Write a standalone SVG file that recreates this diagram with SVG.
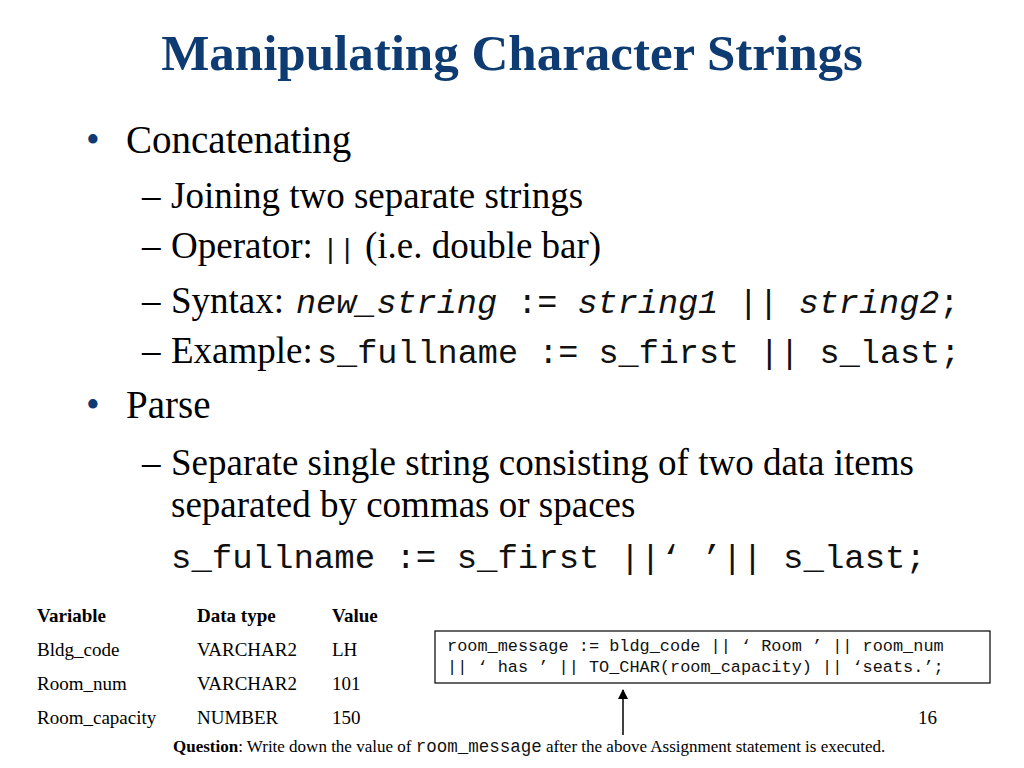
<svg xmlns="http://www.w3.org/2000/svg" width="1024" height="768" viewBox="0 0 1024 768">
<defs>
<style>
.serif{font-family:"Liberation Serif","Times New Roman",serif;fill:#000}
.mono{font-family:"Liberation Mono","Courier New",monospace;fill:#111}
.title{font-family:"Liberation Serif","Times New Roman",serif;font-weight:bold;fill:#0d3b72;font-size:51px}
.l1{font-size:39px}
.l2{font-size:37px}
.tb{font-size:19px}
.bul{fill:#0d3b72}
</style>
<marker id="arr" viewBox="0 0 10 10" refX="9" refY="5" markerWidth="10" markerHeight="10" markerUnits="userSpaceOnUse" orient="auto">
<path d="M0,0 L10,5 L0,10 z" fill="#000"/>
</marker>
</defs>
<rect width="1024" height="768" fill="#fff"/>
<g id="title"><text class="title" x="512" y="70" text-anchor="middle">Manipulating Character Strings</text></g>
<g id="body">
<text class="serif l1 bul" x="86" y="153">•</text>
<text class="serif l1" x="126" y="153">Concatenating</text>
<text class="serif l2" x="142" y="208">–</text>
<text class="serif l2" x="171" y="208">Joining two separate strings</text>
<text class="serif l2" x="142" y="258">–</text>
<text class="serif l2" x="171" y="258">Operator: <tspan class="mono" font-size="28">||</tspan> (i.e. double bar)</text>
<text class="serif l2" x="142" y="313">–</text>
<text class="serif l2" x="171" y="313">Syntax:</text>
<text class="mono" x="296" y="313" font-size="33.5"><tspan font-style="italic">new_string</tspan> := <tspan font-style="italic">string1</tspan> || <tspan font-style="italic">string2</tspan>;</text>
<text class="serif l2" x="142" y="363">–</text>
<text class="serif l2" x="171" y="363">Example:</text>
<text class="mono" x="317" y="363" font-size="33.5">s_fullname := s_first || s_last;</text>
<text class="serif l1 bul" x="86" y="418">•</text>
<text class="serif l1" x="126" y="418">Parse</text>
<text class="serif l2" x="142" y="475">–</text>
<text class="serif l2" x="171" y="475">Separate single string consisting of two data items</text>
<text class="serif l2" x="171" y="517">separated by commas or spaces</text>
<text class="mono" x="171" y="568" font-size="34">s_fullname := s_first ||‘ ’|| s_last;</text>
</g>
<g id="table">
<text class="serif tb" x="37" y="622" font-weight="bold">Variable</text>
<text class="serif tb" x="197" y="622" font-weight="bold">Data type</text>
<text class="serif tb" x="332" y="622" font-weight="bold">Value</text>
<text class="serif tb" x="37" y="656">Bldg_code</text>
<text class="serif tb" x="197" y="656">VARCHAR2</text>
<text class="serif tb" x="332" y="656">LH</text>
<text class="serif tb" x="37" y="690">Room_num</text>
<text class="serif tb" x="197" y="690">VARCHAR2</text>
<text class="serif tb" x="332" y="690">101</text>
<text class="serif tb" x="37" y="724">Room_capacity</text>
<text class="serif tb" x="197" y="724">NUMBER</text>
<text class="serif tb" x="332" y="724">150</text>
</g>
<g id="codebox">
<rect x="435" y="631" width="555" height="52" fill="#fff" stroke="#000" stroke-width="1.2"/>
<text class="mono" x="447" y="651" font-size="16.9" fill="#222">room_message := bldg_code || ‘ Room ’ || room_num</text>
<text class="mono" x="447" y="672" font-size="16.9" fill="#222">|| ‘ has ’ || TO_CHAR(room_capacity) || ‘seats.’;</text>
</g>
<g id="connectors">
<line x1="623" y1="735" x2="623" y2="690" stroke="#000" stroke-width="1.5" marker-end="url(#arr)"/>
</g>
<g id="pagenum"><text class="serif" x="918" y="724" font-size="19">16</text></g>
<g id="question">
<text class="serif" x="173" y="752" font-size="17"><tspan font-weight="bold">Question</tspan>: Write down the value of <tspan class="mono" font-size="17.5">room_message</tspan> after the above Assignment statement is executed.</text>
</g>
</svg>
